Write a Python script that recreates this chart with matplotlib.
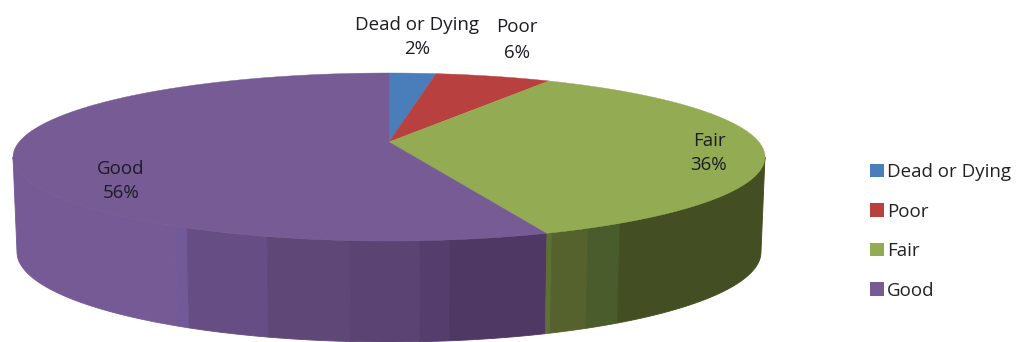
import numpy as np
import matplotlib
matplotlib.use("Agg")
import matplotlib.pyplot as plt
from matplotlib.patches import Patch

categories = ["Dead or Dying", "Poor", "Fair", "Good"]
values = [2.3, 5.7, 36.0, 56.0]
colors = ["#4a7ebb", "#b8403f", "#93ac53", "#775b95"]

# side-wall shading bands: (left x, right x, colour)
wall_bands = [
    (13, 175, "#755a95"), (175, 187, "#705a98"), (187, 267, "#664e84"),
    (267, 350, "#5f4878"), (350, 420, "#5b4373"), (420, 450, "#553d6d"),
    (450, 547, "#4f3864"),
    (547, 552, "#5f7034"), (552, 588, "#56622d"), (588, 620, "#4a5b2c"),
    (620, 766, "#434e22"),
]

plt.rcParams["font.family"] = ["Open Sans", "DejaVu Sans"]
fig = plt.figure(figsize=(10.18, 3.42), dpi=100)
ax = fig.add_axes([0, 0, 1, 1])
ax.set_xlim(0, 1018)
ax.set_ylim(342, 0)
ax.axis("off")

CX, TOP_CY, TOP_RX, TOP_RY = 389, 157, 376, 84
BOT_CY, BOT_RX, BOT_RY = 252, 372, 90
APEX = (389, 142)
PERSP = 0.87


def warp(theta):
    """Perspective: true pie angle -> angle on the drawn ellipse."""
    return 2 * np.arctan2(PERSP * np.sin(theta / 2), np.cos(theta / 2))


def top_pt(t):
    return CX + TOP_RX * np.sin(t), TOP_CY - TOP_RY * np.cos(t)


def bot_pt(t):
    return CX + BOT_RX * np.sin(t), BOT_CY - BOT_RY * np.cos(t)


# side wall
for x0, x1, col in wall_bands:
    a = np.arcsin(np.clip((x0 - CX) / TOP_RX, -1, 1))
    b = np.arcsin(np.clip((x1 - CX) / TOP_RX, -1, 1))
    t = np.linspace(np.pi - a, np.pi - b, 40)
    xt, yt = top_pt(t)
    xb, yb = bot_pt(t)
    ax.fill(np.r_[xt, xb[::-1]], np.r_[yt, yb[::-1]], color=col, lw=0.6, zorder=2)

# top face
frac = np.cumsum([0] + values) / sum(values)
for i, col in enumerate(colors):
    t = warp(np.linspace(frac[i], frac[i + 1], 120) * 2 * np.pi)
    x, y = top_pt(t)
    ax.fill(np.r_[APEX[0], x], np.r_[APEX[1], y], color=col, lw=0.3, zorder=3)

# data labels
pcts = [f"{v:.0f}%" for v in values]
label_pos = [(417, 37), (517, 40), (709, 153), (121, 181)]
for name, pct, (lx, ly) in zip(categories, pcts, label_pos):
    ax.text(lx, ly, f"{name}\n{pct}", ha="center", va="center", fontsize=13.5,
            color="#1c1c24", linespacing=1.5, zorder=5)

handles = [Patch(facecolor=c, edgecolor="none") for c in colors]
ax.legend(handles, categories, loc="upper left", bbox_to_anchor=(870 / 1018, 1 - 163 / 342),
          frameon=False, fontsize=13.5, handlelength=0.75, handleheight=0.75,
          handletextpad=0.15, labelspacing=1.15, borderpad=0, borderaxespad=0,
          labelcolor="#222222")

fig.savefig("out.png", dpi=100)
